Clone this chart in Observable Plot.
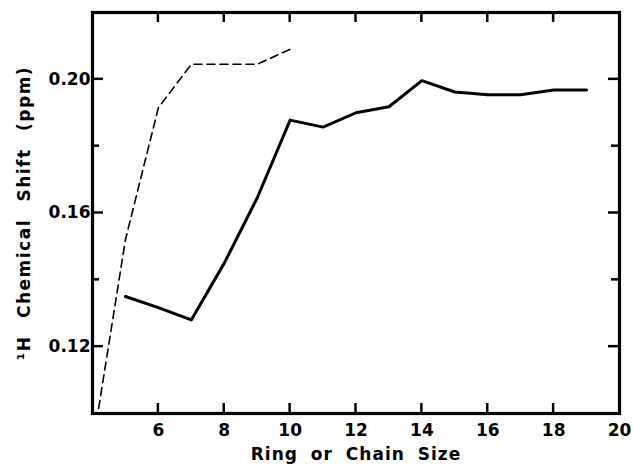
<!DOCTYPE html>
<html><head><meta charset="utf-8">
<script src="https://cdn.jsdelivr.net/npm/d3@7"></script>
<script src="https://cdn.jsdelivr.net/npm/@observablehq/plot@0.6"></script>
<style>body{margin:0;background:#fff;overflow:hidden;}</style>
</head><body><div id="chart"></div>
<script>
const ringSize  = [5, 6, 7, 8, 9, 10, 11, 12, 13, 14, 15, 16, 17, 18, 19];
const ringShift = [0.135, 0.1317, 0.128, 0.145, 0.1645, 0.1878, 0.1857, 0.190, 0.1918, 0.1996, 0.1962, 0.1954, 0.1954, 0.1968, 0.1968];
const chainSize  = [4, 5, 6, 7, 8, 9, 10];
const chainShift = [0.090, 0.152, 0.1915, 0.2045, 0.2045, 0.2045, 0.209];
const xTickLabels = [6, 8, 10, 12, 14, 16, 18, 20];
const xTickMarks  = [6, 8, 10, 12, 14, 16, 18];
const yTickLabels = [0.12, 0.16, 0.20];
const yMajorMarks = [0.12, 0.16, 0.20];
const yMinorMarks = [0.14, 0.18];
const xTitle = "Ring or Chain Size";
const yTitle = "\u00B9H Chemical Shift (ppm)";

const W = 633, H = 464, mL = 92, mR = 14, mT = 12, mB = 51;
const xDom = [4, 20], yDom = [0.10, 0.22];
const ring = ringSize.map((x, i) => ({x, y: ringShift[i]}));
const chain = chainSize.map((x, i) => ({x, y: chainShift[i]}));
const fmtY = d3.format(".2f");

const chart = Plot.plot({
  width: W, height: H,
  marginLeft: mL, marginRight: mR, marginTop: mT, marginBottom: mB,
  style: {fontFamily: "DejaVu Sans", fontSize: "17px", fontWeight: "bold", background: "white", color: "black"},
  x: {domain: xDom, axis: null},
  y: {domain: yDom, axis: null},
  marks: [
    Plot.line(chain, {x: "x", y: "y", stroke: "black", strokeWidth: 1.6, strokeDasharray: "8,5", clip: true}),
    Plot.line(ring, {x: "x", y: "y", stroke: "black", strokeWidth: 3, clip: true}),
    Plot.text(xTickLabels, {x: d => d, text: d => String(d), frameAnchor: "bottom", textAnchor: "middle", lineAnchor: "middle", dy: 17, fill: "black"}),
    Plot.text(yTickLabels, {y: d => d, text: d => fmtY(d), frameAnchor: "left", textAnchor: "end", lineAnchor: "middle", dx: -2, fill: "black"}),
    Plot.text([xTitle], {text: d => d, frameAnchor: "bottom", textAnchor: "middle", lineAnchor: "middle", dy: 41, fill: "black"}),
    Plot.text([yTitle], {text: d => d, frameAnchor: "left", textAnchor: "middle", lineAnchor: "middle", rotate: -90, dx: -68, fill: "black"}),
    Plot.frame({stroke: "black", strokeWidth: 3.2})
  ]
});
d3.select(chart).selectAll("text").each(function() {
  const t = this.textContent;
  if (t === xTitle) d3.select(this).attr("letter-spacing", "1px").attr("word-spacing", "6px");
  if (t === yTitle) d3.select(this).attr("letter-spacing", "1.5px").attr("word-spacing", "10px");
});

// inward tick marks placed with Plot's own scales
const sx = chart.scale("x"), sy = chart.scale("y");
const fx0 = sx.apply(xDom[0]), fx1 = sx.apply(xDom[1]);
const fy0 = sy.apply(yDom[0]), fy1 = sy.apply(yDom[1]);
const ticks = d3.select(chart).append("g")
  .attr("stroke", "black").attr("stroke-width", 2.5).attr("fill", "none");
xTickMarks.forEach(v => {
  const px = sx.apply(v);
  ticks.append("line").attr("x1", px).attr("x2", px).attr("y1", fy0).attr("y2", fy0 - 10);
  ticks.append("line").attr("x1", px).attr("x2", px).attr("y1", fy1).attr("y2", fy1 + 10);
});
yMajorMarks.forEach(v => {
  const py = sy.apply(v);
  ticks.append("line").attr("x1", fx0).attr("x2", fx0 + 11).attr("y1", py).attr("y2", py);
  ticks.append("line").attr("x1", fx1).attr("x2", fx1 - 11).attr("y1", py).attr("y2", py);
});
yMinorMarks.forEach(v => {
  const py = sy.apply(v);
  ticks.append("line").attr("x1", fx0).attr("x2", fx0 + 7).attr("y1", py).attr("y2", py);
  ticks.append("line").attr("x1", fx1).attr("x2", fx1 - 8).attr("y1", py).attr("y2", py);
});
document.getElementById("chart").append(chart);
</script>
</body></html>
